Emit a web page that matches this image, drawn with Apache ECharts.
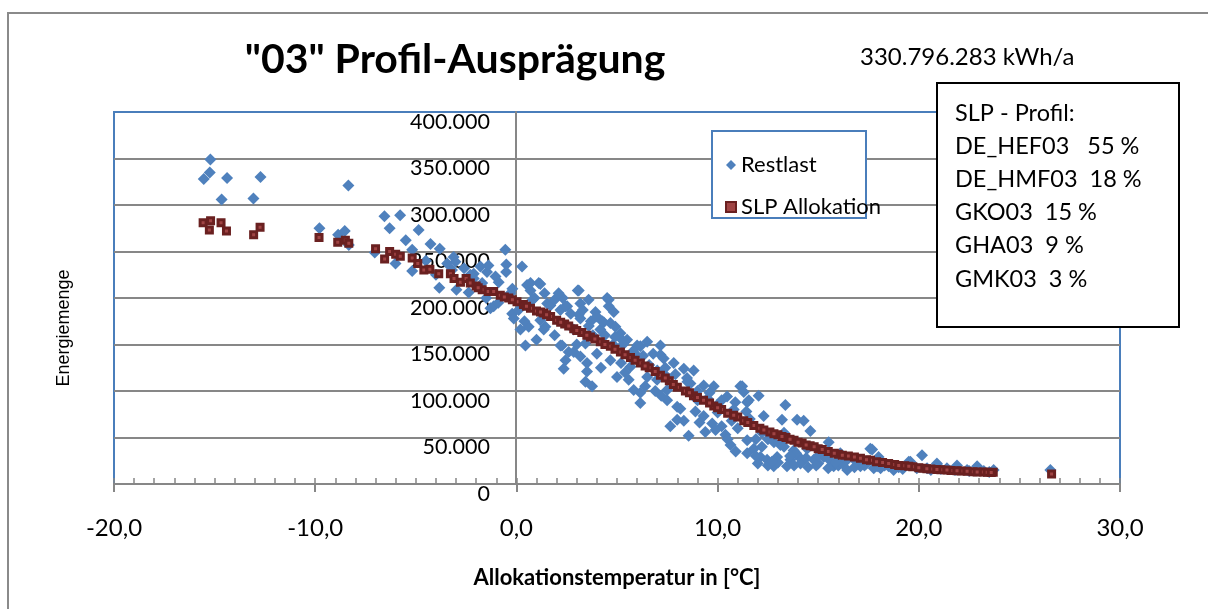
<!DOCTYPE html>
<html>
<head>
<meta charset="utf-8">
<script src="https://cdn.jsdelivr.net/npm/echarts@6/dist/echarts.min.js"></script>
<style>
  html, body { margin: 0; padding: 0; background: #fff; }
  #chart { width: 1208px; height: 609px; }
</style>
</head>
<body>
<div id="chart"></div>
<script>
// Restlast (daily values) – temperature in °C, energy in kWh
const restlastTemp = [
  -15.21, -15.54, -15.24, -14.38, -14.65, -13.07, -12.72, -8.35, -6.56, -5.78,
  -6.30, -9.79, -8.86, -8.53, -8.33, -7.04, -4.86, -5.18, -4.27, -3.81,
  -0.55, -0.50, -0.51, -3.12, -3.83, -2.98, -2.37, -5.18, -6.01, -2.12,
  -1.04, 0.28, -0.88, -1.13, -0.21, -0.13, 0.20, 0.45, 0.53, 1.11,
  0.70, 1.53, 2.19, 2.52, 3.10, 3.59, 3.93, 4.59, 4.84, 3.18,
  2.85, 2.27, 4.17, 4.67, 5.17, 5.50, 6.00, 2.60, 3.43, 0.61,
  1.19, 0.11, -2.12, -1.46, -1.79, -3.20, -3.44, -1.39, -3.03, -2.29,
  0.70, -1.70, -1.29, 1.44, 4.34, 1.19, 3.05, 4.51, 4.59, 3.18,
  2.44, 1.69, 3.10, 4.26, 4.92, 5.25, 1.36, 2.19, 2.44, 2.35,
  3.51, 3.51, 3.43, 3.76, 2.85, 3.18, 4.67, 5.00, 5.58, 5.83,
  6.16, 6.16, 6.50, 7.16, 7.16, 7.32, 7.82, 8.32, 8.81, 6.99,
  7.49, 7.99, 9.31, 9.81, 10.47, 11.13, 11.55, 12.04, 13.37, 9.98,
  8.65, 6.16, 5.67, 6.50, 7.49, 8.48, 11.22, 11.30, 7.49, 8.15,
  7.99, 8.32, 7.65, 8.56, 9.31, 9.73, 9.39, 10.39, 10.64, 10.88,
  11.47, 11.43, 12.29, 13.20, 13.95, 14.28, 14.61, 11.47, 12.13, 11.47,
  12.46, 12.96, 13.62, 14.12, 14.78, 15.52, 16.10, 16.44, 17.59, 17.10,
  17.93, 18.75, 19.50, 13.12, 13.78, 14.45, 15.27, 15.77, 16.44, 12.79,
  13.45, 17.68, 20.16, 18.00, 17.76, 19.58, 20.90, 21.90, 22.90, 23.72,
  26.54, 20.41, 21.40, 22.40, 23.23, 12.00, 12.50, 13.00, 13.80, 14.50,
  15.00, 15.50, 16.00, 16.80, 17.40, 18.30, 19.00, 10.90, 11.80, 12.50,
  13.30, 14.00, 10.20, 9.00, 9.60, 10.00, 11.00, 12.60, 5.20, 5.90,
  6.60, 7.00, 4.00, 3.80, 4.80, 0.90, 1.40, 1.90, 2.30, 2.70,
  3.30, 3.70, 4.00, 4.40, 4.90, 5.30, 5.80, 6.30, 6.80, 7.40,
  7.90, 8.50, 9.00, 9.50, 10.20, 10.80, 11.60, 12.20, 12.80, 13.30,
  13.90, 14.40, 15.00, 15.60, 16.20, 16.90, 17.30, 18.10, 18.50, 19.20,
  19.90, 20.60, 21.10, 21.80, 22.50, 23.00, 23.50, 11.90, 12.70, 13.60,
  14.90, 15.90, 10.50, 9.90, 9.10, 8.90, 10.70, 11.90, 12.20, 6.90,
  7.20, 5.40, 6.40, 4.20, 3.00, 1.90, 1.00, 0.40, 0.80, -0.30,
  -0.90, -1.50, -2.60, -4.00, -4.50, -5.50, -0.20, 2.10, 3.60
];
const restlastValue = [
  349000, 328000, 335000, 329000, 306000, 307000, 330000, 321000, 288000, 289000,
  275000, 275000, 268000, 272000, 257000, 249000, 273000, 252000, 258000, 253000,
  252000, 236000, 228000, 244000, 211000, 209000, 206000, 229000, 237000, 226000,
  223000, 234000, 217000, 191000, 183000, 178000, 166000, 149000, 214000, 216000,
  208000, 194000, 187000, 191000, 208000, 198000, 185000, 198000, 185000, 178000,
  166000, 149000, 166000, 173000, 162000, 155000, 149000, 142000, 151000, 169000,
  176000, 187000, 221000, 228000, 234000, 230000, 237000, 235000, 239000, 225000,
  216000, 216000, 189000, 169000, 174000, 215000, 208000, 200000, 191000, 194000,
  191000, 192000, 182000, 175000, 169000, 155000, 166000, 149000, 133000, 124000,
  130000, 121000, 110000, 105000, 142000, 137000, 133000, 115000, 112000, 101000,
  87000, 148000, 153000, 149000, 139000, 135000, 130000, 124000, 122000, 112000,
  101000, 83000, 106000, 105000, 94000, 105000, 90000, 95000, 85000, 85000,
  108000, 98000, 126000, 115000, 115000, 114000, 105000, 99000, 90000, 81000,
  69000, 68000, 62000, 52000, 73000, 65000, 56000, 53000, 42000, 88000,
  88000, 78000, 73000, 69000, 69000, 68000, 57000, 47000, 29000, 33000,
  26000, 29000, 26000, 22000, 26000, 45000, 33000, 26000, 38000, 19000,
  19000, 15000, 24000, 42000, 36000, 38000, 29000, 19000, 15000, 19000,
  19000, 37000, 31000, 29000, 17000, 24000, 22000, 20000, 19000, 15000,
  15000, 17000, 17000, 15000, 14000, 22000, 20000, 23000, 20000, 18000,
  22000, 17000, 20000, 18000, 22000, 20000, 18000, 35000, 38000, 48000,
  55000, 30000, 62000, 90000, 98000, 77000, 60000, 52000, 130000, 140000,
  128000, 122000, 140000, 160000, 150000, 200000, 205000, 198000, 200000, 183000,
  187000, 175000, 180000, 160000, 158000, 150000, 143000, 138000, 140000, 125000,
  118000, 110000, 100000, 92000, 90000, 80000, 70000, 55000, 45000, 40000,
  33000, 28000, 30000, 25000, 22000, 24000, 20000, 17000, 19000, 16000,
  17000, 15000, 16000, 15000, 14000, 15000, 13000, 30000, 24000, 30000,
  20000, 23000, 48000, 58000, 66000, 78000, 68000, 48000, 40000, 100000,
  95000, 120000, 105000, 125000, 150000, 160000, 155000, 175000, 198000, 205000,
  195000, 200000, 232000, 225000, 240000, 262000, 210000, 205000, 170000
];

// SLP Allokation
const slpTemp = [
  -15.57, -15.20, -15.26, -14.68, -14.41, -13.06, -12.74, -9.81, -8.88, -8.50,
  -8.33, -7.00, -6.55, -6.30, -6.00, -5.77, -5.18, -4.90, -4.60, -4.30,
  -3.86, -3.28, -3.10, -2.78, -2.50, -2.29, -2.00, -1.70, -1.40, -1.13,
  -0.80, -0.38, 0.03, 0.35, 0.70, 1.00, 1.36, 1.70, 2.00, 2.40,
  2.85, 3.25, 3.68, 4.17, 4.67, 5.17, 5.67, 6.16, 6.60, 7.16,
  7.60, 8.00, 8.40, 8.80, 9.30, 9.81, 10.20, 10.50, 11.00, 11.30,
  11.80, 12.10, 12.60, 13.00, 13.40, 13.80, 14.20, 14.60, 15.00, 15.50,
  16.00, 16.50, 17.10, 17.60, 18.20, 18.80, 19.30, 19.70, 20.20, 20.60,
  21.10, 21.60, 22.10, 22.70, 23.20, 23.70, 26.60, -1.90, -0.60, -0.20,
  0.50, 1.20, 1.50, 2.20, 2.60, 3.00, 3.50, 3.90, 4.40, 4.90,
  5.40, 5.90, 6.40, 6.90, 7.40, 7.80, 8.60, 9.00, 9.60, 10.00,
  10.80, 11.50, 12.30, 12.80, 13.20, 13.60, 14.00, 14.40, 14.80, 15.20,
  15.80, 16.20, 16.80, 17.40, 17.90, 18.50, 19.00, 19.50, 20.00, 20.40,
  20.90, 21.40, 21.90, 22.40, 22.90, 23.40, 23.60
];
const slpValue = [
  281000, 283000, 273000, 281000, 272000, 268000, 276000, 265000, 260000, 262000,
  259000, 253000, 242000, 250000, 247000, 245000, 243000, 237000, 230000, 231000,
  226000, 226000, 221000, 217000, 221000, 216000, 213000, 209000, 207000, 207000,
  203000, 200000, 196000, 193000, 189000, 186000, 184000, 180000, 176000, 172000,
  167000, 163000, 158000, 153000, 148000, 142000, 136000, 130000, 125000, 117000,
  111000, 104000, 100000, 95000, 90000, 84000, 80000, 76000, 72000, 68000,
  63000, 60000, 56000, 53000, 50000, 47000, 44000, 41000, 38000, 35000,
  32000, 30000, 27600, 25500, 23000, 21000, 19500, 18600, 17000, 16000,
  15200, 14600, 14000, 13200, 12800, 12600, 10700, 211000, 201000, 198000,
  191000, 185000, 182000, 174000, 170000, 165000, 160000, 156000, 150000, 145000,
  139000, 133000, 127000, 121000, 114000, 107000, 98000, 93000, 87000, 82000,
  74000, 66000, 58000, 54000, 51000, 48000, 45000, 42000, 40000, 37000,
  33000, 31000, 29000, 26000, 24000, 22000, 20000, 19000, 17500, 16500,
  15500, 15000, 14300, 13600, 13000, 12700, 12500
];

const profileLines = [
  'SLP - Profil:',
  'DE_HEF03   55 %',
  'DE_HMF03  18 %',
  'GKO03  15 %',
  'GHA03  9 %',
  'GMK03  3 %'
];

const chart = echarts.init(document.getElementById('chart'));

const zip = (xs, ys) => xs.map((x, i) => [x, ys[i]]);
const fmtThousands = (v) => String(v).replace(/\B(?=(\d{3})+(?!\d))/g, '.');

const font = 'Lato, "Open Sans", sans-serif';

const option = {
  animation: false,
  backgroundColor: '#fff',
  textStyle: { fontFamily: font },
  grid: {
    left: 114,
    right: 88,
    top: 112,
    bottom: 125,
    show: true,
    borderColor: '#4a7ebb',
    borderWidth: 2,
    backgroundColor: 'transparent'
  },
  legend: {
    orient: 'vertical',
    left: 720,
    top: 149,
    itemGap: 20,
    itemWidth: 10,
    itemHeight: 10,
    textStyle: { fontSize: 22, color: '#000', fontFamily: font },
    data: [
      { name: 'Restlast', icon: 'diamond' },
      { name: 'SLP Allokation', icon: 'rect' }
    ]
  },
  xAxis: [
    {
      type: 'value',
      min: -20,
      max: 30,
      interval: 10,
      name: 'Allokationstemperatur in [°C]',
      nameLocation: 'middle',
      nameGap: 83,
      nameTextStyle: { fontSize: 22, fontWeight: 'bold', color: '#000', fontFamily: font },
      axisLine: { lineStyle: { color: '#878787', width: 2 } },
      axisTick: { show: true, length: 8, lineStyle: { color: '#878787', width: 2 } },
      axisLabel: {
        margin: 32,
        fontSize: 24,
        color: '#000',
        formatter: (v) => v.toFixed(1).replace('.', ',')
      },
      splitLine: { show: false }
    },
    {
      type: 'value',
      position: 'bottom',
      min: -20,
      max: 30,
      interval: 1,
      axisLine: { show: false },
      axisTick: { show: true, inside: true, length: 6, lineStyle: { color: '#878787', width: 1.5 } },
      axisLabel: { show: false },
      splitLine: { show: false }
    }
  ],
  yAxis: {
    type: 'value',
    min: 0,
    max: 400000,
    interval: 50000,
    position: 'left',
    offset: -402,
    axisLine: { show: true, onZero: false, lineStyle: { color: '#878787', width: 2 } },
    axisTick: { show: false },
    axisLabel: {
      margin: 26,
      fontSize: 21.5,
      lineHeight: 20,
      color: '#000',
      verticalAlign: 'top',
      formatter: (v) => fmtThousands(v)
    },
    splitLine: {
      show: true,
      showMaxLine: false,
      showMinLine: false,
      lineStyle: { color: '#878787', width: 2 }
    }
  },
  graphic: [
    {
      type: 'rect',
      z: 0,
      shape: { x: 8, y: 13, width: 1220, height: 620 },
      style: { fill: 'none', stroke: '#8a8a8a', lineWidth: 2 }
    },
    {
      type: 'text',
      x: 455,
      y: 60,
      style: {
        text: '"03" Profil-Ausprägung',
        font: 'bold 41px ' + font,
        fill: '#000',
        textAlign: 'center',
        textVerticalAlign: 'middle'
      }
    },
    {
      type: 'text',
      x: 860,
      y: 57,
      style: {
        text: '330.796.283 kWh/a',
        font: '24px ' + font,
        fill: '#000',
        textAlign: 'left',
        textVerticalAlign: 'middle'
      }
    },
    {
      type: 'text',
      x: 64,
      y: 328,
      rotation: Math.PI / 2,
      style: {
        text: 'Energiemenge',
        font: '18px "Liberation Sans", Arial, sans-serif',
        fill: '#000',
        textAlign: 'center',
        textVerticalAlign: 'middle'
      }
    },
    {
      type: 'rect',
      z: 3,
      shape: { x: 712, y: 131, width: 154, height: 87 },
      style: { fill: '#fff', stroke: '#4a7ebb', lineWidth: 2 }
    },
    {
      type: 'rect',
      z: 10,
      shape: { x: 937, y: 83, width: 242, height: 244 },
      style: { fill: '#fff', stroke: '#000', lineWidth: 2 }
    },
    ...profileLines.map((t, i) => ({
      type: 'text',
      z: 11,
      x: 955,
      y: 113 + i * 33.2,
      style: {
        text: t,
        font: '23.5px ' + font,
        fill: '#000',
        textAlign: 'left',
        textVerticalAlign: 'middle'
      }
    }))
  ],
  series: [
    {
      name: 'Restlast',
      type: 'scatter',
      xAxisIndex: 0,
      symbol: 'diamond',
      symbolSize: 12,
      itemStyle: { color: '#4f81bd', opacity: 1 },
      data: zip(restlastTemp, restlastValue)
    },
    {
      name: 'SLP Allokation',
      type: 'scatter',
      xAxisIndex: 0,
      symbol: 'rect',
      symbolSize: 6,
      itemStyle: { color: '#a04444', borderColor: '#6a2020', borderWidth: 3, opacity: 1 },
      data: zip(slpTemp, slpValue)
    }
  ]
};

chart.setOption(option);
</script>
</body>
</html>
